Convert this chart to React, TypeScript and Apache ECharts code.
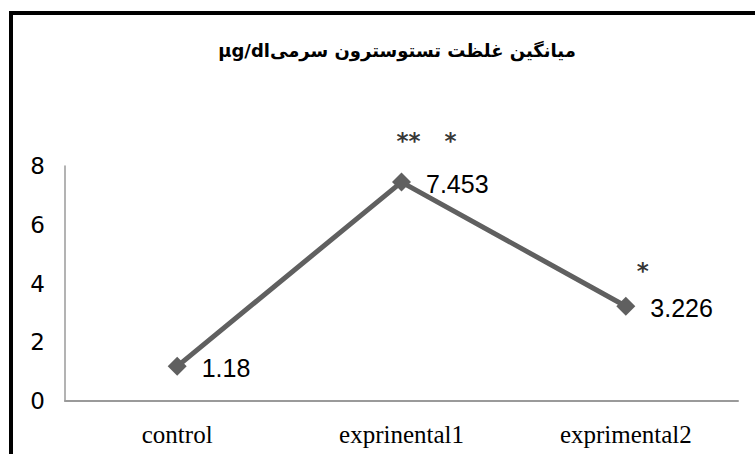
import React, { useEffect, useRef } from "react";
import * as echarts from "echarts";

const titleText = "µg/dl" + "میانگین غلظت تستوسترون سرمی";
const categories = ["control", "exprinental1", "exprimental2"];
const values = [1.18, 7.453, 3.226];
const yTicks = { min: 0, max: 8, interval: 2 };
const sigCategories = ["exprinental1", "exprimental2"];
const sigValues = [7.453, 3.226];
const sigTexts = ["**   *", "*"];
const sigOffsets = [[25, -41], [17, -35]];

export default function App() {
  const ref = useRef<HTMLDivElement>(null);
  useEffect(() => {
    if (!ref.current) return;
    const chart = echarts.init(ref.current, null, { renderer: "svg" });
    chart.setOption({
      animation: false,
      backgroundColor: "#ffffff",
      title: {
        text: titleText,
        left: 392,
        textAlign: "center",
        top: 36,
        textStyle: { fontFamily: "DejaVu Sans", fontWeight: "bold", fontSize: 18, color: "#000" },
      },
      grid: { left: 65, right: 17, top: 166, bottom: 53, containLabel: false },
      xAxis: {
        type: "category",
        data: categories,
        boundaryGap: true,
        axisLine: { show: true, lineStyle: { color: "#9a9a9a", width: 2 } },
        axisTick: { show: false },
        axisLabel: { fontFamily: "Liberation Serif", fontSize: 25, color: "#000", margin: 21 },
      },
      yAxis: {
        type: "value",
        min: yTicks.min,
        max: yTicks.max,
        interval: yTicks.interval,
        splitLine: { show: false },
        axisTick: { show: false },
        axisLine: { show: true, lineStyle: { color: "#9a9a9a", width: 1.5 } },
        axisLabel: { fontFamily: "DejaVu Sans", fontSize: 23, color: "#000", margin: 20 },
      },
      series: [
        {
          type: "line",
          data: values,
          symbol: "diamond",
          symbolSize: 19,
          lineStyle: { color: "#606060", width: 5 },
          itemStyle: { color: "#606060" },
          label: {
            show: true,
            position: "right",
            distance: 15,
            fontFamily: "Liberation Sans Narrow, Liberation Sans",
            fontSize: 25,
            color: "#000",
            offset: [0, 2],
          },
        },
        {
          type: "scatter",
          data: sigCategories.map((c, i) => ({
            value: [c, sigValues[i]],
            label: { formatter: sigTexts[i], offset: sigOffsets[i] },
          })),
          symbolSize: 1,
          itemStyle: { color: "rgba(0,0,0,0)" },
          label: {
            show: true,
            position: "inside",
            fontFamily: "DejaVu Sans",
            fontWeight: "bold",
            fontSize: 23,
            color: "#000",
          },
          z: 5,
        },
      ],
    });
    return () => chart.dispose();
  }, []);
  return (
    <div style={{ position: "fixed", left: 0, top: 0, width: 755, height: 454, background: "#fff" }}>
      <div ref={ref} style={{ position: "absolute", left: 0, top: 0, width: 755, height: 454 }} />
      <div
        style={{
          position: "absolute",
          left: 9,
          top: 11,
          width: 780,
          height: 480,
          borderTop: "4px solid #000",
          borderLeft: "4px solid #000",
          pointerEvents: "none",
        }}
      />
    </div>
  );
}
